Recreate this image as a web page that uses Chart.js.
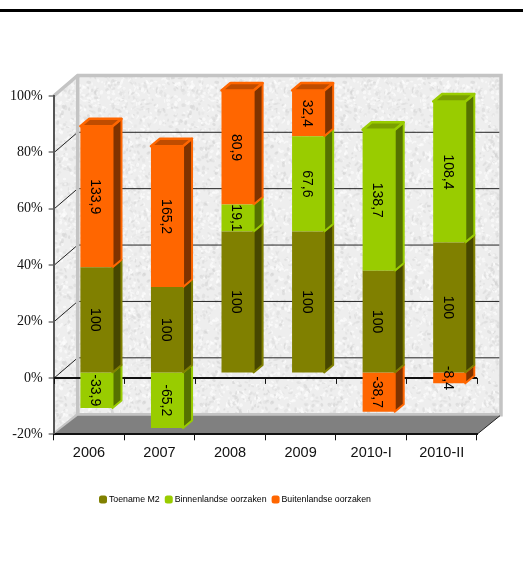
<!DOCTYPE html>
<html><head><meta charset="utf-8">
<script src="https://cdn.jsdelivr.net/npm/chart.js@4"></script>
<style>html,body{margin:0;padding:0;background:#fff}#rule{position:absolute;left:0;top:9px;width:523px;height:3px;background:#000}#w{position:absolute;left:0;top:0;width:523px;height:568px}</style>
</head><body><div id="rule"></div><div id="w"><canvas id="c" width="523" height="568"></canvas></div>
<script>
const categories = ['2006','2007','2008','2009','2010-I','2010-II'];
const toename = [100,100,100,100,100,100];
const binnenlands = [-33.9,-65.2,19.1,67.6,138.7,108.4];
const buitenlands = [133.9,165.2,80.9,32.4,-38.7,-8.4];
const seriesNames = ['Toename M2','Binnenlandse oorzaken','Buitenlandse oorzaken'];
const seriesColors = ['#808000','#99CC00','#FF6600'];
const sideColors = ['#474700','#557200','#7f3300'];
const topColors = ['#666600','#7a9f00','#bf4c00'];
const yTicks = [-20,0,20,40,60,80,100];
const raw = [toename,binnenlands,buitenlands];
const totals = categories.map((_,i)=>raw.reduce((s,r)=>s+Math.abs(r[i]),0));
const share = r => r.map((v,i)=>v/totals[i]*100);

const DX=24, DY=-20.6, BX=7.5, BY=-5.5, SX=9, SY=-7.5;

function texture(ctx){
  const n=document.createElement('canvas');n.width=n.height=128;
  const g=n.getContext('2d');g.fillStyle='#eeeeee';g.fillRect(0,0,128,128);
  let s=12345;const r=()=>(s=(s*1103515245+12345)&0x7fffffff)/0x7fffffff;
  for(let i=0;i<1100;i++){const v=r()<.5?Math.round(208+r()*20):255;
    g.fillStyle=`rgba(${v},${v},${v},.55)`;
    g.beginPath();g.ellipse(r()*128,r()*128,.8+r()*1.8,.6+r()*1.2,r()*3,0,7);g.fill();}
  return ctx.createPattern(n,'repeat');
}
function poly(ctx,pts,fill,stroke,lw){
  ctx.beginPath();pts.forEach((p,i)=>i?ctx.lineTo(p[0],p[1]):ctx.moveTo(p[0],p[1]));ctx.closePath();
  if(fill){ctx.fillStyle=fill;ctx.fill();}
  if(stroke){ctx.strokeStyle=stroke;ctx.lineWidth=lw;ctx.lineJoin='round';ctx.stroke();}
}
const scene={
  id:'scene',
  beforeDraw(chart){
    const {ctx,scales:{x,y}}=chart, a=chart.chartArea;
    const l=a.left,r=a.right,t=y.getPixelForValue(100),b=y.getPixelForValue(-20);
    const lg=chart.legend; lg.left=94; lg.right=385; lg.top=487.5; lg.bottom=514;
    ctx.save();
    const tex=texture(ctx);
    poly(ctx,[[l+DX,t+DY],[r+DX,t+DY],[r+DX,b+DY],[l+DX,b+DY]],tex);
    poly(ctx,[[l,t],[l+DX,t+DY],[l+DX,b+DY],[l,b]],tex);
    yTicks.forEach(v=>{ if(v===-20||v===100)return;
      const p=y.getPixelForValue(v);
      ctx.strokeStyle='#222';ctx.lineWidth=1;
      ctx.beginPath();ctx.moveTo(l,p+.5);ctx.lineTo(l+DX,p+DY+.5);ctx.lineTo(r+DX,p+DY+.5);ctx.stroke();
    });
    const fr='#c4c4c4';
    ctx.strokeStyle=fr;ctx.lineWidth=3.5;ctx.lineJoin='miter';
    ctx.beginPath();ctx.moveTo(l,t);ctx.lineTo(l+DX,t+DY);ctx.lineTo(r+DX,t+DY);ctx.lineTo(r+DX,b+DY+1);ctx.lineTo(l+DX,b+DY+1);ctx.lineTo(l,b);ctx.stroke();
    ctx.beginPath();ctx.moveTo(l+DX,t+DY);ctx.lineTo(l+DX,b+DY+1);ctx.stroke();
    poly(ctx,[[l,b],[r,b],[r+DX-1,b+DY+2],[l+DX,b+DY+2]],'#808080');
    ctx.strokeStyle='#222';ctx.lineWidth=1;
    ctx.beginPath();ctx.moveTo(r,b);ctx.lineTo(r+DX-1,b+DY+2);ctx.stroke();
    ctx.restore();
  },
  beforeDatasetsDraw(chart){
    const {ctx,scales:{x,y}}=chart, a=chart.chartArea;
    const zero=y.getPixelForValue(0);
    ctx.save();
    ctx.strokeStyle='#111';ctx.lineWidth=2;
    ctx.beginPath();ctx.moveTo(a.left,zero);ctx.lineTo(a.right,zero);ctx.stroke();
    ctx.lineWidth=1;
    for(let i=0;i<=categories.length;i++){
      const p=Math.round(a.left+(a.right-a.left)*i/categories.length)+.5;
      ctx.beginPath();ctx.moveTo(p,zero);ctx.lineTo(p,zero+6);ctx.stroke();
    }
    ctx.translate(BX,BY);
    categories.forEach((_,i)=>{
      const segs=[0,1,2].map(d=>{
        const el=chart.getDatasetMeta(d).data[i];
        const p=el.getProps(['x','y','base','width'],true);
        return {d,l:p.x-p.width/2,r:p.x+p.width/2,t:Math.min(p.y,p.base),b:Math.max(p.y,p.base)};
      });
      segs.sort((a,b)=>b.b-a.b);
      segs.forEach(s=>{
        poly(ctx,[[s.r,s.t],[s.r+SX,s.t+SY],[s.r+SX,s.b+SY],[s.r,s.b]],sideColors[s.d],seriesColors[s.d],2);
      });
      const top=segs[segs.length-1];
      poly(ctx,[[top.l,top.t],[top.r,top.t],[top.r+SX,top.t+SY],[top.l+SX,top.t+SY]],topColors[top.d],seriesColors[top.d],2.5);
    });
  },
  afterDatasetsDraw(chart){
    const {ctx}=chart;
    ctx.font='14px "Liberation Sans"';ctx.fillStyle='#000';ctx.textAlign='center';ctx.textBaseline='middle';
    [0,1,2].forEach(d=>chart.getDatasetMeta(d).data.forEach((el,i)=>{
      const p=el.getProps(['x','y','base'],true);
      ctx.save();ctx.translate(p.x-1.5,(p.y+p.base)/2);ctx.rotate(Math.PI/2);
      ctx.fillText(String(raw[d][i]).replace('.',','),0,0);ctx.restore();
    }));
    ctx.restore();
  }
};
new Chart(document.getElementById('c'),{
  type:'bar',
  plugins:[scene],
  data:{labels:categories,datasets:raw.map((r,d)=>({label:seriesNames[d],data:share(r),backgroundColor:seriesColors[d],borderWidth:0,borderColor:seriesColors[d]}))},
  options:{
    responsive:false,animation:false,
    layout:{padding:{left:4,right:46,top:96,bottom:76}},
    datasets:{bar:{categoryPercentage:1,barPercentage:.455}},
    scales:{
      x:{stacked:true,grid:{display:true,drawOnChartArea:false,color:'#111',tickLength:6,offset:true},border:{color:'#111',width:2},
        ticks:{font:{family:'Liberation Sans',size:14.5},color:'#111',padding:4,maxRotation:0,autoSkip:false}},
      y:{stacked:true,min:-20,max:100,afterBuildTicks(s){s.ticks=yTicks.map(v=>({value:v}));},
        grid:{drawOnChartArea:true,tickLength:5,tickColor:'#333',tickWidth:1,lineWidth:0,color:'#111'},border:{color:'#555',width:2},
        ticks:{font:{family:'Liberation Serif',size:14},color:'#111',padding:6,callback:v=>v+'%'}}
    },
    plugins:{
      tooltip:{enabled:false},
      legend:{position:'bottom',align:'start',labels:{font:{family:'Liberation Sans',size:8.8},color:'#222',padding:7.5,boxWidth:3,boxHeight:3,
        generateLabels(){return seriesNames.map((t,d)=>({text:t,fillStyle:seriesColors[d],strokeStyle:seriesColors[d],lineWidth:5,lineJoin:'round',datasetIndex:d,hidden:false}));}}}
    }
  }
});
</script></body></html>
